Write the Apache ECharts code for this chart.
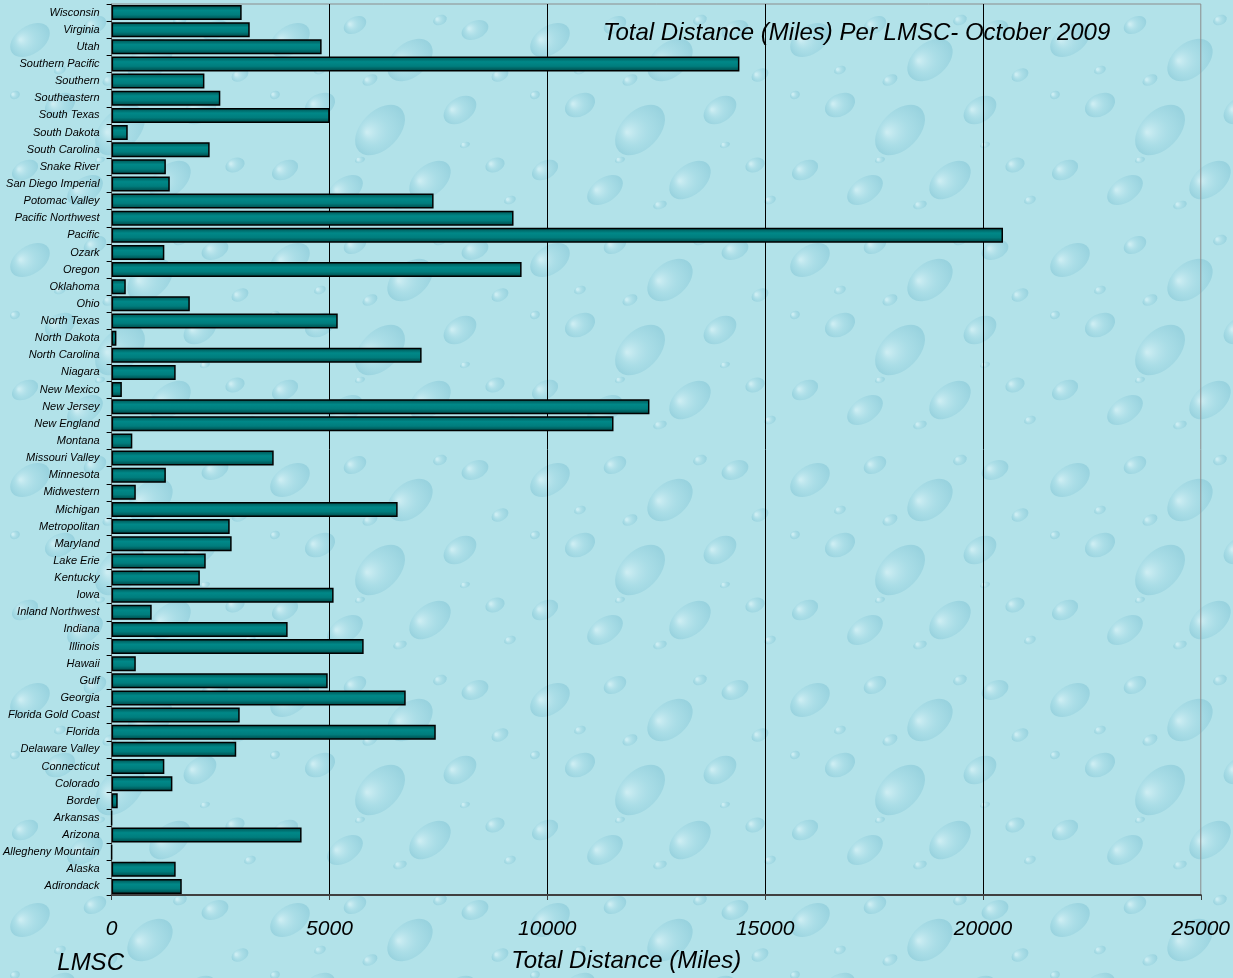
<!DOCTYPE html>
<html>
<head>
<meta charset="utf-8">
<title>Total Distance (Miles) Per LMSC - October 2009</title>
<script src="https://cdn.jsdelivr.net/npm/echarts@6/dist/echarts.min.js"></script>
<style>
html, body { margin: 0; padding: 0; width: 100%; height: 100%; background: #b3e2ea; overflow: hidden; }
#main { width: 1233px; height: 978px; }
</style>
</head>
<body>
<div id="main"></div>
<script>
// LMSC names, first one sits at the bottom of the chart
var lmsc = ['Adirondack', 'Alaska', 'Allegheny Mountain', 'Arizona', 'Arkansas', 'Border',
	'Colorado', 'Connecticut', 'Delaware Valley', 'Florida', 'Florida Gold Coast', 'Georgia',
	'Gulf', 'Hawaii', 'Illinois', 'Indiana', 'Inland Northwest', 'Iowa', 'Kentucky', 'Lake Erie',
	'Maryland', 'Metropolitan', 'Michigan', 'Midwestern', 'Minnesota', 'Missouri Valley',
	'Montana', 'New England', 'New Jersey', 'New Mexico', 'Niagara', 'North Carolina',
	'North Dakota', 'North Texas', 'Ohio', 'Oklahoma', 'Oregon', 'Ozark', 'Pacific',
	'Pacific Northwest', 'Potomac Valley', 'San Diego Imperial', 'Snake River', 'South Carolina',
	'South Dakota', 'South Texas', 'Southeastern', 'Southern', 'Southern Pacific', 'Utah',
	'Virginia', 'Wisconsin'];

// total miles per LMSC
var miles = [1610, 1470, 0, 4360, 0, 140,
	1395, 1210, 2860, 7440, 2940, 6750,
	4960, 555, 5785, 4040, 920, 5095, 2025, 2160,
	2755, 2710, 6565, 555, 1245, 3720,
	475, 11520, 12345, 235, 1470, 7115,
	110, 5190, 1795, 325, 9410, 1210, 20460,
	9225, 7390, 1335, 1245, 2250,
	370, 5005, 2495, 2130, 14410, 4820,
	3170, 2985];

// x axis scale
var xMin = 0;
var xMax = 25000;
var xStep = 5000;

// water drop backdrop, fixed drops: x, y, rx, ry, angle
var drops = [
	[30, 40, 22, 14, -0.6], [95, 25, 12, 8, -0.5], [150, 60, 26, 17, -0.7], [215, 30, 14, 9, -0.4],
	[60, 105, 16, 11, -0.5], [120, 130, 30, 19, -0.8], [200, 110, 18, 12, -0.6], [25, 170, 14, 9, -0.5],
	[85, 190, 20, 12, -0.6], [170, 180, 24, 15, -0.7], [235, 165, 10, 7, -0.4], [240, 75, 9, 6, -0.5],
	[60, 70, 6, 4, -0.4], [180, 20, 7, 5, -0.4], [110, 80, 8, 5, -0.5], [140, 205, 7, 4, -0.3],
	[15, 95, 5, 4, -0.4], [250, 200, 6, 4, -0.4], [100, 160, 5, 3, -0.3], [205, 145, 5, 3, -0.3]
];

function dropTile() {
	var c = document.createElement('canvas');
	c.width = 260;
	c.height = 220;
	var g = c.getContext('2d');
	g.fillStyle = '#b2e2e9';
	g.fillRect(0, 0, c.width, c.height);
	drops.forEach(function (d) {
		g.save();
		g.translate(d[0], d[1]);
		g.rotate(d[4]);
		var r = Math.max(d[2], d[3]);
		var rg = g.createRadialGradient(-d[2] * 0.35, -d[3] * 0.4, 1, 0, 0, r);
		rg.addColorStop(0, 'rgba(225,246,250,0.55)');
		rg.addColorStop(0.5, 'rgba(150,210,224,0.35)');
		rg.addColorStop(1, 'rgba(110,185,205,0.4)');
		g.fillStyle = rg;
		g.beginPath();
		g.ellipse(0, 0, d[2], d[3], 0, 0, Math.PI * 2);
		g.fill();
		g.restore();
	});
	return c.toDataURL();
}
document.body.style.background = 'url(' + dropTile() + ') repeat';

var italic = { fontStyle: 'italic', fontWeight: 'normal', color: '#000' };

var myChart = echarts.init(document.getElementById('main'));
var option = {
	animation: false,
	backgroundColor: 'transparent',
	textStyle: { fontFamily: '"Liberation Sans", Arial, sans-serif' },
	title: {
		text: 'Total Distance (Miles) Per LMSC- October 2009',
		left: 598,
		top: 16,
		textStyle: Object.assign({ fontSize: 24 }, italic)
	},
	grid: {
		left: 110,
		right: 28,
		top: 4,
		bottom: 79,
		show: true,
		borderColor: '#8c8c8c',
		borderWidth: 1
	},
	xAxis: {
		type: 'value',
		min: xMin,
		max: xMax,
		interval: xStep,
		name: 'Total Distance (Miles)',
		nameLocation: 'middle',
		nameGap: 54,
		nameTextStyle: Object.assign({ fontSize: 24, padding: [0, 60, 0, 0] }, italic),
		axisLine: { show: true, lineStyle: { color: '#404040', width: 2 } },
		axisTick: { show: true, length: 5, lineStyle: { color: '#404040' } },
		axisLabel: Object.assign({
			fontSize: 21,
			margin: 24,
			formatter: function (v) { return String(v); }
		}, italic),
		splitLine: {
			show: true,
			showMinLine: false,
			showMaxLine: false,
			lineStyle: { color: '#000', width: 1 }
		}
	},
	yAxis: {
		type: 'category',
		data: lmsc,
		name: 'LMSC',
		nameLocation: 'start',
		nameGap: 56,
		nameTextStyle: Object.assign({ fontSize: 24, padding: [0, 42, 0, 0] }, italic),
		axisLine: { show: true, lineStyle: { color: '#707070', width: 1 } },
		axisTick: { show: true, length: 5, lineStyle: { color: '#000' } },
		axisLabel: Object.assign({ fontSize: 11, margin: 12, interval: 0 }, italic)
	},
	series: [{
		name: 'Total Distance (Miles)',
		type: 'bar',
		barWidth: 15,
		itemStyle: {
			color: new echarts.graphic.LinearGradient(0, 0, 0, 1, [
				{ offset: 0, color: '#004f4f' },
				{ offset: 0.35, color: '#008888' },
				{ offset: 0.65, color: '#007d7d' },
				{ offset: 1, color: '#004444' }
			]),
			borderColor: '#000',
			borderWidth: 1.5
		},
		data: miles
	}]
};
myChart.setOption(option);
</script>
</body>
</html>
